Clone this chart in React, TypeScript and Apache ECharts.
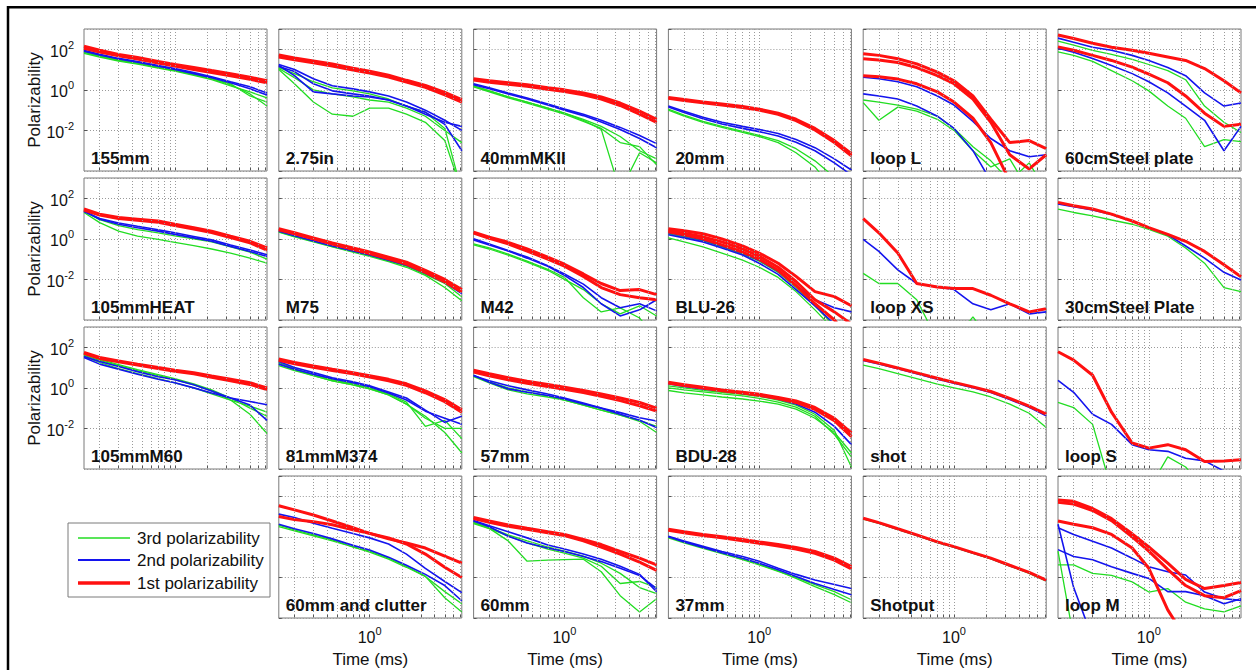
import React, { useEffect, useRef } from "react";
import * as echarts from "echarts";

// ---------- data (log10 of polarizability at each time sample) ----------
const TIMES = [0.143, 0.2, 0.3, 0.45, 0.7, 1, 1.5, 2.2, 3.3, 5, 7.2];
const X_MIN = 0.143;
const X_MAX = 7.2;
const Y_MIN = 1e-4;
const Y_MAX = 1e3;
const X_GRID_TICKS = [0.2, 0.3, 0.4, 0.5, 0.6, 0.7, 0.8, 0.9, 1, 2, 3, 4, 5, 6, 7];
const X_LABEL_EXPONENTS = [0];
const Y_LABEL_EXPONENTS = [-2, 0, 2];
const LEGEND_LABELS = ["3rd polarizability", "2nd polarizability", "1st polarizability"];

type Curves = { r: (number | null)[][]; b: (number | null)[][]; g: (number | null)[][] };

const c155mm: Curves = {
  r: [[2.15, 1.95, 1.75, 1.6, 1.4, 1.25, 1.1, 0.95, 0.8, 0.62, 0.45], [2.05, 1.87, 1.68, 1.52, 1.32, 1.17, 1.0, 0.85, 0.7, 0.52, 0.35]],
  b: [[1.95, 1.75, 1.55, 1.4, 1.2, 1.05, 0.85, 0.65, 0.4, 0.15, -0.15], [1.9, 1.72, 1.52, 1.36, 1.16, 1.0, 0.8, 0.6, 0.35, 0.05, -0.25]],
  g: [[1.85, 1.65, 1.45, 1.3, 1.1, 0.95, 0.75, 0.55, 0.3, -0.3, -0.6], [1.8, 1.62, 1.42, 1.27, 1.07, 0.92, 0.72, 0.5, 0.2, -0.1, -0.4], [1.88, 1.68, 1.48, 1.32, 1.12, 0.97, 0.77, 0.55, 0.25, -0.2, -0.8]],
};
const c275in: Curves = {
  r: [[1.72, 1.57, 1.42, 1.27, 1.07, 0.92, 0.72, 0.47, 0.22, -0.13, -0.48], [1.62, 1.48, 1.33, 1.18, 0.98, 0.83, 0.63, 0.38, 0.12, -0.25, -0.6]],
  b: [[1.2, 0.7, -0.1, -0.2, -0.3, -0.35, -0.5, -0.8, -1.2, -1.6, -1.8], [1.15, 0.9, 0.3, -0.05, -0.2, -0.3, -0.5, -0.8, -1.1, -1.7, -3.0], [1.25, 1.0, 0.55, 0.2, 0.05, -0.1, -0.3, -0.6, -1.0, -1.5, -2.0]],
  g: [[1.0, 0.3, -0.6, -1.2, -1.3, -0.9, -0.9, -1.2, -1.6, -2.5, -5], [1.05, 0.6, 0.0, -0.2, -0.35, -0.5, -0.6, -0.9, -1.3, -2.0, -2.6], [1.1, 0.8, 0.4, 0.1, -0.05, -0.2, -0.45, -0.8, -1.1, -1.9, -5]],
};
const c40mmMKII: Curves = {
  r: [[0.55, 0.45, 0.35, 0.25, 0.1, 0.0, -0.15, -0.35, -0.65, -1.05, -1.45], [0.48, 0.38, 0.28, 0.18, 0.03, -0.08, -0.24, -0.45, -0.77, -1.2, -1.6]],
  b: [[0.3, 0.1, -0.15, -0.4, -0.7, -0.95, -1.2, -1.5, -1.85, -2.25, -2.65], [0.25, 0.05, -0.2, -0.45, -0.75, -1.0, -1.27, -1.58, -1.95, -2.4, -2.85]],
  g: [[0.2, -0.05, -0.35, -0.6, -0.9, -1.15, -1.45, -1.8, -2.3, -3.0, -3.4], [0.15, -0.1, -0.4, -0.65, -0.95, -1.2, -1.55, -1.9, -2.6, -2.8, -3.7], [0.2, -0.05, -0.35, -0.6, -0.9, -1.15, -1.5, -1.95, -5, -3.1, -3.6]],
};
const c20mm: Curves = {
  r: [[-0.38, -0.48, -0.6, -0.7, -0.82, -0.95, -1.15, -1.45, -1.9, -2.5, -3.15], [-0.42, -0.52, -0.64, -0.75, -0.87, -1.0, -1.21, -1.52, -1.98, -2.6, -3.25]],
  b: [[-0.8, -1.05, -1.35, -1.6, -1.8, -1.95, -2.15, -2.45, -2.85, -3.4, -3.95], [-0.85, -1.12, -1.42, -1.68, -1.9, -2.06, -2.27, -2.58, -3.0, -3.6, -4.2]],
  g: [[-0.95, -1.25, -1.55, -1.8, -2.05, -2.25, -2.5, -2.9, -3.5, -4.3, -5], [-1.0, -1.3, -1.6, -1.85, -2.1, -2.3, -2.6, -3.1, -3.8, -5, -5]],
};
const cLoopL: Curves = {
  r: [[1.78, 1.7, 1.53, 1.28, 0.87, 0.45, -0.3, -1.45, -2.6, -2.5, -2.9], [1.53, 1.47, 1.35, 1.1, 0.7, 0.3, -0.45, -1.6, -3.2, -3.9, -3.2], [0.7, 0.65, 0.53, 0.3, -0.1, -0.6, -1.4, -2.6, -4.5, -5, -5]],
  b: [[0.62, 0.55, 0.4, 0.15, -0.3, -0.75, -1.55, -2.4, -3.0, -3.3, -3.2], [-0.2, -0.3, -0.45, -0.8, -1.3, -1.9, -3.0, -4.5, -5, -5, -5]],
  g: [[-0.63, -1.5, -0.85, -1.05, -1.45, -2.0, -3.0, -3.8, -3.4, -5, -5], [-0.5, -0.6, -0.75, -0.95, -1.3, -1.9, -2.8, -3.5, -4.5, -3.6, -5]],
};
const c60cmSteel: Curves = {
  r: [[2.7, 2.53, 2.3, 2.1, 1.95, 1.8, 1.62, 1.45, 1.05, 0.45, -0.15], [2.12, 1.95, 1.7, 1.45, 1.12, 0.78, 0.35, -0.3, -1.15, -1.8, -1.7]],
  b: [[2.55, 2.35, 2.1, 1.95, 1.7, 1.45, 1.1, 0.7, -0.15, -0.8, -0.65], [2.05, 1.85, 1.55, 1.2, 0.8, 0.4, -0.15, -0.8, -1.5, -3.0, -1.8]],
  g: [[2.4, 2.2, 1.95, 1.75, 1.5, 1.25, 0.95, 0.5, -0.8, -1.6, -2.1], [1.87, 1.7, 1.4, 0.95, 0.45, -0.05, -0.8, -1.4, -2.8, -2.45, -2.55]],
};
const c105mmHEAT: Curves = {
  r: [[1.47, 1.22, 1.05, 0.97, 0.88, 0.72, 0.55, 0.38, 0.13, -0.12, -0.45], [1.42, 1.17, 1.0, 0.92, 0.82, 0.66, 0.49, 0.31, 0.06, -0.2, -0.55]],
  b: [[1.38, 0.97, 0.72, 0.55, 0.38, 0.22, 0.05, -0.12, -0.37, -0.62, -0.87], [1.35, 1.0, 0.78, 0.62, 0.45, 0.3, 0.12, -0.05, -0.3, -0.55, -0.78]],
  g: [[1.3, 0.8, 0.38, 0.13, -0.03, -0.17, -0.33, -0.5, -0.7, -0.95, -1.2], [1.35, 0.95, 0.65, 0.45, 0.3, 0.15, 0.0, -0.15, -0.4, -0.65, -1.0]],
};
const cM75: Curves = {
  r: [[0.5, 0.3, 0.05, -0.2, -0.45, -0.65, -0.9, -1.15, -1.55, -2.0, -2.5], [0.45, 0.25, 0.0, -0.26, -0.52, -0.72, -0.98, -1.24, -1.65, -2.12, -2.62]],
  b: [[0.38, 0.15, -0.1, -0.35, -0.6, -0.8, -1.05, -1.3, -1.7, -2.15, -2.7]],
  g: [[0.35, 0.12, -0.13, -0.38, -0.63, -0.83, -1.08, -1.35, -1.75, -2.2, -2.85], [0.33, 0.1, -0.15, -0.4, -0.65, -0.86, -1.12, -1.4, -1.8, -2.4, -3.05]],
};
const cM42: Curves = {
  r: [[0.33, 0.08, -0.17, -0.5, -0.9, -1.25, -1.73, -2.2, -2.55, -2.5, -2.75], [0.28, 0.03, -0.25, -0.6, -1.0, -1.35, -1.85, -2.4, -2.75, -2.9, -3.0]],
  b: [[0.0, -0.25, -0.58, -0.9, -1.32, -1.73, -2.23, -2.9, -3.4, -3.2, -3.55], [-0.05, -0.3, -0.6, -0.95, -1.35, -1.8, -2.4, -3.2, -3.8, -3.5, -3.0]],
  g: [[-0.25, -0.45, -0.75, -1.1, -1.5, -1.9, -2.9, -3.6, -3.4, -3.9, -5], [-0.3, -0.5, -0.8, -1.15, -1.55, -2.0, -2.5, -3.2, -3.7, -3.3, -3.8]],
};
const cBLU26: Curves = {
  r: [[0.5, 0.4, 0.25, 0.0, -0.35, -0.7, -1.2, -1.85, -2.6, -2.85, -3.3], [0.4, 0.28, 0.1, -0.15, -0.5, -0.85, -1.4, -2.1, -3.0, -3.6, -4.2], [0.35, 0.2, 0.0, -0.3, -0.65, -1.0, -1.55, -2.3, -3.2, -4.0, -5]],
  b: [[0.3, 0.15, -0.05, -0.35, -0.7, -1.05, -1.6, -2.3, -3.0, -3.4, -3.6], [0.2, 0.05, -0.15, -0.45, -0.8, -1.2, -1.75, -2.5, -3.3, -4.2, -5]],
  g: [[0.25, 0.1, -0.1, -0.4, -0.75, -1.1, -1.65, -2.4, -3.3, -4.3, -5], [0.05, -0.15, -0.4, -0.7, -1.05, -1.4, -1.9, -2.6, -3.5, -4.5, -5]],
};
const cLoopXS: Curves = {
  r: [[1.0, 0.3, -0.7, -2.2, -2.37, -2.45, -2.45, -2.78, -3.2, -3.6, -3.45]],
  b: [[-0.03, -0.62, -1.53, -2.2, -2.37, -2.5, -3.2, -3.5, -3.2, -3.7, -3.6]],
  g: [[-1.7, -2.2, -2.2, -3.0, -5, -5, -3.85, -5, -5, -5, -5]],
};
const c30cmSteel: Curves = {
  r: [[1.8, 1.63, 1.47, 1.22, 0.88, 0.55, 0.22, -0.12, -0.62, -1.28, -1.87]],
  b: [[1.72, 1.58, 1.42, 1.2, 0.88, 0.55, 0.2, -0.35, -0.95, -1.65, -2.03]],
  g: [[1.47, 1.3, 1.13, 0.93, 0.72, 0.47, 0.13, -0.45, -1.2, -2.4, -2.6]],
};
const c105mmM60: Curves = {
  r: [[1.75, 1.5, 1.33, 1.17, 1.0, 0.87, 0.75, 0.58, 0.42, 0.25, 0.0], [1.7, 1.45, 1.28, 1.12, 0.95, 0.82, 0.69, 0.52, 0.35, 0.17, -0.08]],
  b: [[1.5, 1.17, 0.92, 0.67, 0.42, 0.25, 0.0, -0.25, -0.5, -0.67, -0.83], [1.55, 1.3, 1.05, 0.8, 0.55, 0.4, 0.15, -0.15, -0.5, -0.85, -1.6]],
  g: [[1.6, 1.35, 1.1, 0.85, 0.6, 0.4, 0.15, -0.15, -0.6, -1.3, -2.25], [1.55, 1.25, 0.95, 0.7, 0.45, 0.25, 0.0, -0.3, -0.6, -0.9, -1.2], [1.65, 1.4, 1.15, 0.9, 0.65, 0.45, 0.2, -0.1, -0.5, -1.0, -1.4]],
};
const c81mmM374: Curves = {
  r: [[1.42, 1.25, 1.08, 0.92, 0.75, 0.6, 0.42, 0.2, -0.15, -0.58, -1.08], [1.36, 1.19, 1.02, 0.86, 0.69, 0.53, 0.35, 0.12, -0.24, -0.68, -1.2]],
  b: [[1.17, 0.92, 0.67, 0.45, 0.25, 0.05, -0.25, -0.6, -1.15, -1.5, -1.8], [1.3, 1.0, 0.75, 0.5, 0.3, 0.1, -0.2, -0.5, -1.1, -1.7, -1.4]],
  g: [[1.25, 0.95, 0.65, 0.4, 0.2, 0.0, -0.3, -0.7, -1.9, -1.6, -2.5], [1.1, 0.85, 0.6, 0.35, 0.15, -0.05, -0.35, -0.8, -1.4, -2.2, -3.2], [1.2, 0.9, 0.6, 0.35, 0.15, -0.05, -0.35, -0.8, -1.5, -2.0, -2.0]],
};
const c57mm: Curves = {
  r: [[0.87, 0.7, 0.5, 0.33, 0.17, 0.03, -0.13, -0.3, -0.5, -0.72, -1.0], [0.78, 0.6, 0.4, 0.23, 0.07, -0.07, -0.23, -0.42, -0.63, -0.88, -1.15]],
  b: [[0.62, 0.28, -0.05, -0.22, -0.38, -0.55, -0.8, -1.0, -1.22, -1.47, -1.63], [0.6, 0.35, 0.1, -0.1, -0.3, -0.5, -0.75, -1.0, -1.3, -1.6, -1.95]],
  g: [[0.55, 0.25, -0.1, -0.3, -0.45, -0.6, -0.85, -1.1, -1.35, -1.65, -2.2], [0.6, 0.3, 0.0, -0.2, -0.4, -0.6, -0.85, -1.1, -1.35, -1.6, -1.9]],
};
const cBDU28: Curves = {
  r: [[0.28, 0.15, 0.03, -0.1, -0.22, -0.32, -0.47, -0.65, -0.97, -1.5, -2.22], [0.24, 0.11, -0.01, -0.14, -0.26, -0.37, -0.53, -0.72, -1.06, -1.62, -2.4]],
  b: [[0.2, 0.07, -0.05, -0.15, -0.27, -0.38, -0.55, -0.8, -1.2, -1.9, -2.8]],
  g: [[-0.13, -0.25, -0.35, -0.45, -0.55, -0.65, -0.8, -1.05, -1.5, -2.2, -3.2], [0.1, 0.0, -0.12, -0.22, -0.32, -0.42, -0.6, -0.85, -1.3, -2.1, -3.9], [0.0, -0.1, -0.2, -0.3, -0.4, -0.52, -0.7, -0.95, -1.4, -2.3, -3.4]],
};
const cShot: Curves = {
  r: [[1.4, 1.22, 0.98, 0.74, 0.47, 0.27, 0.05, -0.18, -0.52, -0.9, -1.3]],
  b: [[1.35, 1.18, 0.94, 0.7, 0.43, 0.23, 0.01, -0.23, -0.57, -0.96, -1.38]],
  g: [[1.12, 0.95, 0.7, 0.45, 0.18, 0.0, -0.2, -0.45, -0.8, -1.25, -1.95]],
};
const cLoopS: Curves = {
  r: [[1.78, 1.37, 0.62, -1.2, -2.72, -2.97, -2.8, -3.05, -3.63, -3.6, -3.55]],
  b: [[0.37, -0.22, -1.3, -1.8, -2.8, -3.05, -3.13, -3.47, -3.6, -4.1, -5]],
  g: [[-0.72, -0.97, -1.8, -5, -5, -5, -3.4, -3.9, -5, -5, -5]],
};
const c60mmClutter: Curves = {
  r: [[1.53, 1.33, 1.08, 0.78, 0.45, 0.17, -0.1, -0.3, -0.55, -0.95, -1.3], [1.0, 0.85, 0.75, 0.6, 0.35, 0.17, -0.05, -0.35, -0.85, -1.5, -2.0]],
  b: [[1.12, 0.95, 0.67, 0.42, 0.17, -0.05, -0.35, -0.85, -1.55, -2.2, -2.75], [0.62, 0.4, 0.17, -0.1, -0.42, -0.65, -1.0, -1.4, -1.85, -2.4, -3.15]],
  g: [[0.58, 0.35, 0.1, -0.15, -0.5, -0.7, -1.05, -1.45, -1.95, -3.0, -3.7], [0.5, 0.3, 0.05, -0.2, -0.5, -0.75, -1.1, -1.5, -1.95, -2.7, -3.3]],
};
const c60mm: Curves = {
  r: [[0.95, 0.78, 0.58, 0.42, 0.25, 0.12, -0.13, -0.38, -0.72, -1.05, -1.38], [0.9, 0.72, 0.52, 0.37, 0.2, 0.06, -0.2, -0.5, -0.85, -1.25, -1.65]],
  b: [[0.78, 0.5, 0.03, -0.3, -0.55, -0.72, -0.97, -1.22, -1.55, -1.9, -2.55], [0.8, 0.55, 0.25, -0.05, -0.4, -0.6, -0.85, -1.1, -1.45, -1.85, -2.7]],
  g: [[0.7, 0.42, -0.2, -1.2, -1.15, -1.12, -1.1, -1.72, -2.9, -3.7, -3.05], [0.72, 0.45, 0.1, -0.2, -0.5, -0.7, -0.95, -1.3, -1.8, -2.5, -2.8], [0.65, 0.4, 0.05, -0.3, -0.6, -0.8, -1.05, -1.45, -2.3, -2.2, -2.5]],
};
const c37mm: Curves = {
  r: [[0.37, 0.25, 0.12, 0.0, -0.13, -0.25, -0.38, -0.52, -0.72, -1.05, -1.47], [0.32, 0.2, 0.07, -0.05, -0.19, -0.31, -0.45, -0.6, -0.81, -1.15, -1.58]],
  b: [[0.03, -0.2, -0.47, -0.72, -0.97, -1.2, -1.55, -1.85, -2.13, -2.35, -2.55], [0.0, -0.25, -0.52, -0.78, -1.05, -1.3, -1.62, -1.95, -2.3, -2.6, -2.85]],
  g: [[-0.05, -0.3, -0.57, -0.83, -1.12, -1.38, -1.7, -2.0, -2.35, -2.7, -3.1], [0.0, -0.25, -0.5, -0.8, -1.1, -1.35, -1.68, -2.05, -2.45, -2.85, -3.25]],
};
const cShotput: Curves = {
  r: [[0.92, 0.7, 0.4, 0.1, -0.25, -0.48, -0.78, -1.05, -1.4, -1.75, -2.13]],
  b: [[0.9, 0.68, 0.38, 0.08, -0.27, -0.5, -0.8, -1.07, -1.42, -1.77, -2.15]],
  g: [[0.88, 0.66, 0.36, 0.06, -0.29, -0.52, -0.82, -1.09, -1.44, -1.8, -2.18]],
};
const cLoopM: Curves = {
  r: [[1.82, 1.75, 1.4, 0.9, 0.15, -0.5, -1.3, -2.1, -2.55, -2.4, -2.25], [1.7, 1.62, 1.3, 0.8, 0.0, -0.7, -1.6, -2.4, -2.9, -3.0, -2.65], [0.78, 0.62, 0.45, 0.12, -0.55, -1.55, -3.6, -5, -5, -5, -5]],
  b: [[0.45, 0.12, -0.22, -0.55, -1.05, -1.47, -1.72, -1.88, -2.72, -3.05, -3.13], [-0.63, -0.97, -1.13, -1.47, -1.8, -2.05, -2.7, -2.7, -2.9, -3.3, -3.05], [0.62, -2.5, -5, -5, -5, -5, -5, -5, -5, -5, -5]],
  g: [[-0.7, -5, -5, -5, -5, -5, -5, -5, -5, -5, -5], [-1.38, -1.38, -1.8, -1.9, -2.22, -2.72, -2.55, -3.22, -3.55, -3.7, -3.4]],
};

const PANEL_NAMES = [
  ["155mm", "2.75in", "40mmMKII", "20mm", "loop L", "60cmSteel plate"],
  ["105mmHEAT", "M75", "M42", "BLU-26", "loop XS", "30cmSteel Plate"],
  ["105mmM60", "81mmM374", "57mm", "BDU-28", "shot", "loop S"],
  [null, "60mm and clutter", "60mm", "37mm", "Shotput", "loop M"],
];
const PANEL_CURVES: (Curves | null)[][] = [
  [c155mm, c275in, c40mmMKII, c20mm, cLoopL, c60cmSteel],
  [c105mmHEAT, cM75, cM42, cBLU26, cLoopXS, c30cmSteel],
  [c105mmM60, c81mmM374, c57mm, cBDU28, cShot, cLoopS],
  [null, c60mmClutter, c60mm, c37mm, cShotput, cLoopM],
];

// ---------- styling ----------
const FONT = "'Liberation Sans', Arial, Helvetica, sans-serif";
const RED = "#ff1010";
const BLUE = "#1414ee";
const GREEN = "#22dd22";
const ROW_TOPS = [29, 178, 327, 476];
const COL_LEFT0 = 84;
const COL_STEP = 194.8;
const PW = 183;
const PH = 142;

const supLabel = (v: number, allowed: number[]) => {
  const lg = Math.log10(v);
  const e = Math.round(lg);
  if (Math.abs(lg - e) > 1e-6 || allowed.indexOf(e) < 0) return "";
  return `{b|10}{s|${e}}`;
};

const RICH = {
  b: { fontSize: 16, fontFamily: FONT, color: "#111", lineHeight: 20, verticalAlign: "bottom" },
  s: { fontSize: 11, fontFamily: FONT, color: "#111", lineHeight: 11, verticalAlign: "top" },
};

function buildOption() {
  const grid: any[] = [];
  const xAxis: any[] = [];
  const yAxis: any[] = [];
  const series: any[] = [];
  const graphic: any[] = [];

  PANEL_CURVES.forEach((row, r) =>
    row.forEach((curves, c) => {
      if (!curves) return;
      const i = grid.length;
      const left = COL_LEFT0 + c * COL_STEP;
      const top = ROW_TOPS[r];
      grid.push({
        left, top, width: PW, height: PH, show: true,
        borderColor: "#7a7a7a", borderWidth: 1, backgroundColor: "#fff",
        containLabel: false, outerBoundsMode: "none",
      });
      xAxis.push({
        type: "log", logBase: 10, gridIndex: i, min: X_MIN, max: X_MAX,
        axisLine: { show: false },
        axisTick: { show: true, inside: true, length: 3, customValues: X_GRID_TICKS, lineStyle: { color: "#555", width: 1 } },
        splitLine: { show: false },
        axisLabel: {
          show: r === 3, margin: 7, showMinLabel: false, showMaxLabel: false,
          formatter: (v: number) => supLabel(v, X_LABEL_EXPONENTS), rich: RICH,
        },
        name: r === 3 ? "Time (ms)" : "", nameLocation: "middle", nameGap: 33,
        nameTextStyle: { fontSize: 17, fontFamily: FONT, color: "#111" },
      });
      yAxis.push({
        type: "log", logBase: 100, gridIndex: i, min: Y_MIN, max: Y_MAX,
        axisLine: { show: false },
        axisTick: { show: true, inside: true, length: 3, lineStyle: { color: "#555", width: 1 } },
        splitLine: { show: true, lineStyle: { color: "#9a9a9a", width: 1, type: [1, 2] } },
        axisLabel: {
          show: c === 0, margin: 10, showMinLabel: false, showMaxLabel: false,
          formatter: (v: number) => supLabel(v, Y_LABEL_EXPONENTS), rich: RICH,
        },
        name: c === 0 ? "Polarizability" : "", nameLocation: "middle", nameGap: 40, nameRotate: 90,
        nameTextStyle: { fontSize: 17, fontFamily: FONT, color: "#111" },
      });
      const groups: [(number | null)[][], string, number][] = [
        [curves.g, GREEN, 1.3],
        [curves.b, BLUE, 1.6],
        [curves.r, RED, 3],
      ];
      let first = true;
      groups.forEach(([arr, color, width]) =>
        arr.forEach((e) => {
          const s: any = {
            type: "line", xAxisIndex: i, yAxisIndex: i, showSymbol: false, symbol: "none",
            silent: true, clip: true, z: 3,
            lineStyle: { color, width },
            data: TIMES.map((t, k) => [t, e[k] == null ? "-" : Math.pow(10, e[k] as number)]),
          };
          if (first) {
            s.markLine = {
              silent: true, symbol: ["none", "none"], label: { show: false },
              lineStyle: { color: "#9a9a9a", width: 1, type: [1, 2] },
              emphasis: { disabled: true },
              data: X_GRID_TICKS.map((v) => ({ xAxis: v })),
            };
            first = false;
          }
          series.push(s);
        })
      );
      graphic.push({
        type: "text", x: left + 7, y: top + PH - 4, z: 50,
        style: {
          text: PANEL_NAMES[r][c], fontSize: 17, fontWeight: "bold", fontFamily: FONT,
          fill: "#111", verticalAlign: "bottom", align: "left",
        },
      });
    })
  );

  // legend box
  const legendColors = [GREEN, BLUE, RED];
  const legendWidths = [1.3, 2, 3.5];
  const legendYs = [538, 560, 583];
  graphic.push({
    type: "rect", shape: { x: 68, y: 523, width: 202, height: 74 }, z: 40,
    style: { fill: "#fff", stroke: "#7a7a7a", lineWidth: 1 },
  });
  LEGEND_LABELS.forEach((lab, k) => {
    graphic.push({
      type: "line", z: 41, shape: { x1: 78, y1: legendYs[k], x2: 130, y2: legendYs[k] },
      style: { stroke: legendColors[k], lineWidth: legendWidths[k] },
    });
    graphic.push({
      type: "text", x: 137, y: legendYs[k], z: 41,
      style: { text: lab, fontSize: 17, fontFamily: FONT, fill: "#111", verticalAlign: "middle", align: "left" },
    });
  });
  // outer frame
  graphic.push({ type: "line", z: 60, shape: { x1: 7, y1: 7.3, x2: 1256, y2: 7.3 }, style: { stroke: "#000", lineWidth: 2.5 } });
  graphic.push({ type: "line", z: 60, shape: { x1: 8, y1: 6, x2: 8, y2: 670 }, style: { stroke: "#000", lineWidth: 2.5 } });

  return {
    animation: false,
    backgroundColor: "#fff",
    grid, xAxis, yAxis, series, graphic,
  };
}

export default function App() {
  const ref = useRef<HTMLDivElement>(null);
  useEffect(() => {
    if (!ref.current) return;
    const chart = echarts.init(ref.current, undefined, { renderer: "svg" });
    chart.setOption(buildOption() as any);
    return () => chart.dispose();
  }, []);
  return (
    <div
      ref={ref}
      style={{ position: "fixed", left: 0, top: 0, width: 1256, height: 670, background: "#fff" }}
    />
  );
}
